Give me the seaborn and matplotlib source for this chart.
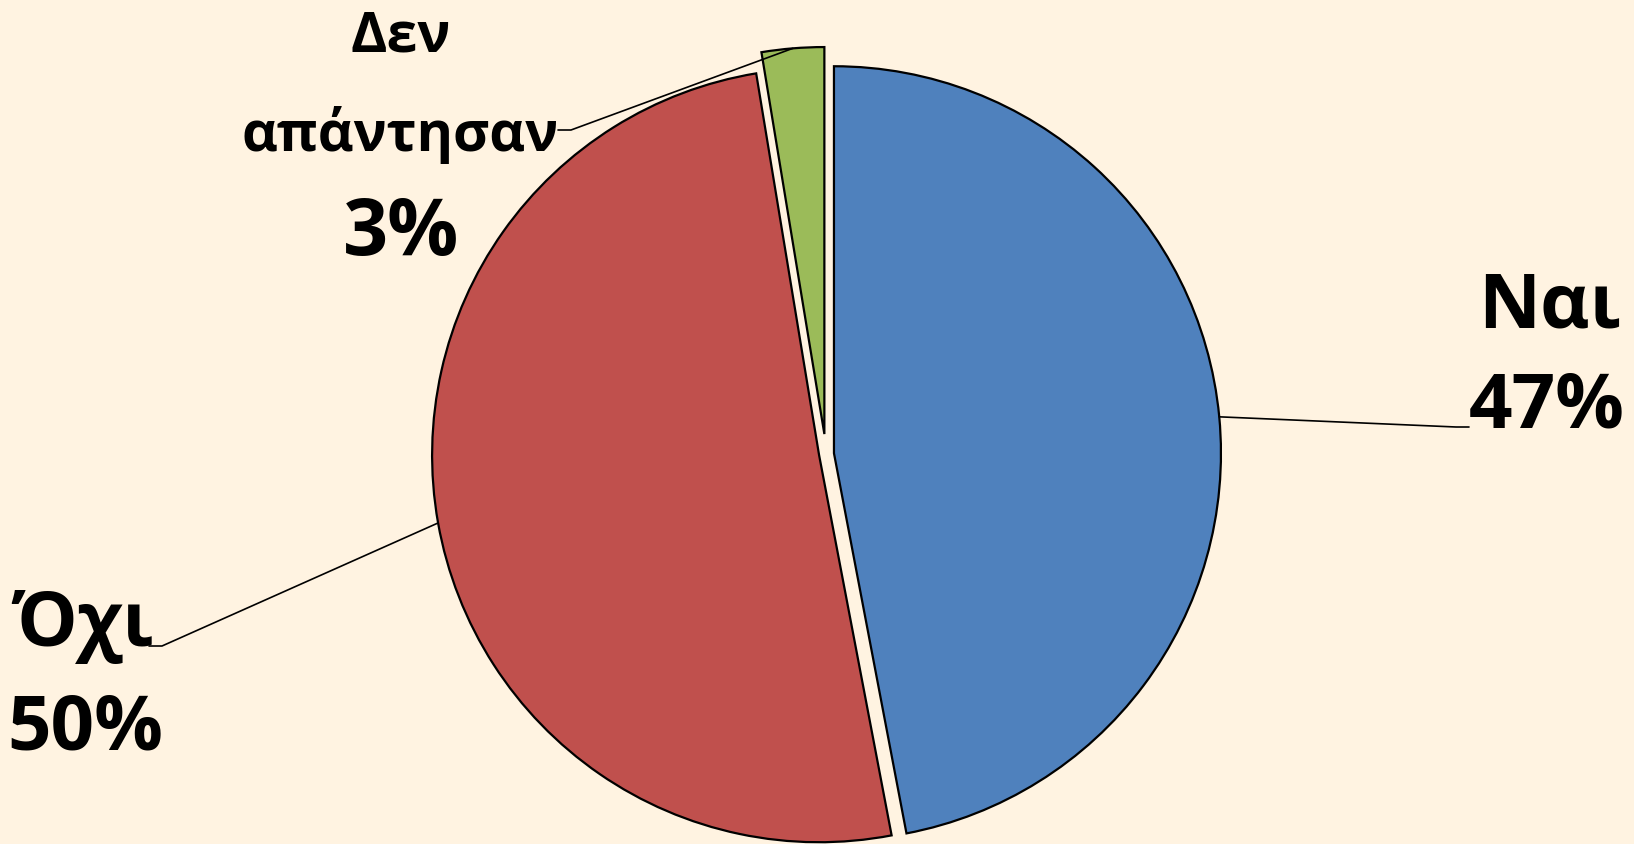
import numpy as np
import matplotlib
matplotlib.use("Agg")
import matplotlib.pyplot as plt
import seaborn as sns

# answers and their shares (percent)
answers = ["Ναι", "Όχι", "Δεν\nαπάντησαν"]
shares = [47.0, 50.4, 2.6]
slice_colors = ["#4F81BD", "#C0504D", "#9BBB59"]

W, H = 1634, 844
BG = "#FFF3E1"

sns.set_style("white")
plt.rcParams["font.family"] = ["Open Sans", "DejaVu Sans"]
plt.rcParams["font.weight"] = "bold"
plt.rcParams["text.color"] = "black"


def img_y(y):
    # picture rows run downwards, data y runs upwards
    return H - y


def draw_pie(ax):
    # explode is in data units here (1 unit = 1 pixel)
    wedges, _ = ax.pie(
        shares,
        colors=slice_colors,
        startangle=90,
        counterclock=False,
        explode=[8, 7, 20],
        radius=387,
        center=(826, img_y(454)),
        wedgeprops=dict(edgecolor="black", linewidth=1.6),
        frame=True,
    )
    return wedges


def edge_point(w):
    mid = np.deg2rad((w.theta1 + w.theta2) / 2)
    cx, cy = w.center
    return cx + w.r * np.cos(mid), cy + w.r * np.sin(mid)


def main():
    fig = plt.figure(figsize=(W / 100, H / 100), dpi=100, facecolor=BG)
    ax = fig.add_axes([0, 0, 1, 1])
    ax.set_facecolor(BG)
    wedges = draw_pie(ax)
    ax.set_xlim(0, W)
    ax.set_ylim(0, H)
    ax.set_aspect("equal")
    ax.axis("off")

    pcts = [f"{round(v)}%" for v in shares]

    # Ναι
    ax.text(1549, img_y(328), answers[0], ha="center", va="baseline", fontsize=55, fontweight="bold")
    ax.text(1547, img_y(427), pcts[0], ha="center", va="baseline", fontsize=55, fontweight="bold")
    x0, y0 = edge_point(wedges[0])
    ax.plot([x0, 1456, 1469], [y0, img_y(427), img_y(427)], color="black", lw=1.2)

    # Όχι
    ax.text(83, img_y(646), answers[1], ha="center", va="baseline", fontsize=55, fontweight="bold")
    ax.text(85, img_y(750), pcts[1], ha="center", va="baseline", fontsize=55, fontweight="bold")
    x1, y1 = edge_point(wedges[1])
    ax.plot([x1, 162, 149], [y1, img_y(646), img_y(646)], color="black", lw=1.2)

    # Δεν απάντησαν
    top, bottom = answers[2].split("\n")
    ax.text(401, img_y(52), top, ha="center", va="baseline", fontsize=40, fontweight="bold")
    ax.text(400, img_y(151), bottom, ha="center", va="baseline", fontsize=40, fontweight="bold")
    ax.text(401, img_y(255), pcts[2], ha="center", va="baseline", fontsize=57, fontweight="bold")
    x2, y2 = edge_point(wedges[2])
    ax.plot([x2, 571, 558], [y2, img_y(130), img_y(130)], color="black", lw=1.2)

    fig.savefig("out.png", dpi=100, facecolor=BG)


if __name__ == "__main__":
    main()
